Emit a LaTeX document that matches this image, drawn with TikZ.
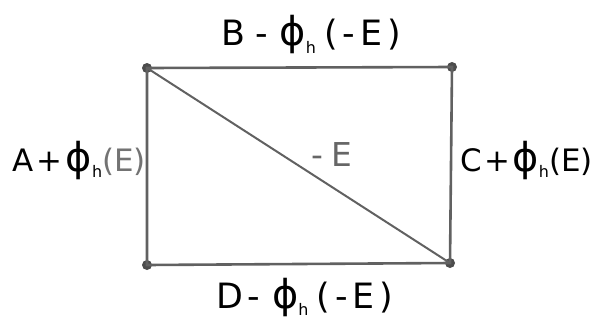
\documentclass[tikz,border=0pt]{standalone}
\usepackage{fontspec}
\setmainfont{DejaVu Sans}
\newfontfamily\handside{DejaVu Sans}
\newcommand{\phih}{{\fontsize{40}{42}\selectfont ϕ}\raisebox{-0.4ex}{\fontsize{16}{16}\selectfont h}}
\newcommand{\gap}[1]{\hspace{#1bp}}
\begin{document}
\begin{tikzpicture}[x=1bp,y=-1bp,
  edge/.style={draw=black!62,line width=2.6bp},
  corner/.style={circle,fill=black!70,inner sep=0pt,minimum size=10bp},
  lbl/.style={text=black,font=\handside\fontsize{35}{38}\selectfont,inner sep=0pt},
  slbl/.style={text=black,font=\handside\fontsize{31}{34}\selectfont,inner sep=0pt},
  glbl/.style={text=black!60,font=\handside\fontsize{33}{36}\selectfont,inner sep=0pt}]
\useasboundingbox (0,0) rectangle (600,326);
\node[corner] (tl) at (147,68) {};
\node[corner] (tr) at (452,67) {};
\node[corner] (bl) at (147,265) {};
\node[corner] (br) at (450,263) {};
\draw[edge] (tl.center) -- (tr.center) -- (br.center) -- (bl.center) -- cycle;
\draw[edge,line width=2bp] (tl.center) -- (br.center);
\node[lbl] (top) at (311,35) {B\gap{10}-\gap{12}\phih\gap{8}(\gap{5}-\gap{5}E\gap{5})};
\node[lbl] (bot) at (305,297) {D\gap{4}-\gap{12}\phih\gap{8}(\gap{5}-\gap{5}E\gap{5})};
\node[slbl,anchor=east] (left) at (146,160) {A\gap{3}+\gap{3}\phih{\color{black!55}(E)}};
\node[slbl,anchor=west] (right) at (460,160) {C\gap{3}+\gap{2}\phih(E)};
\node[glbl] (diag) at (332,155) {-\gap{8}E};
\end{tikzpicture}
\end{document}
